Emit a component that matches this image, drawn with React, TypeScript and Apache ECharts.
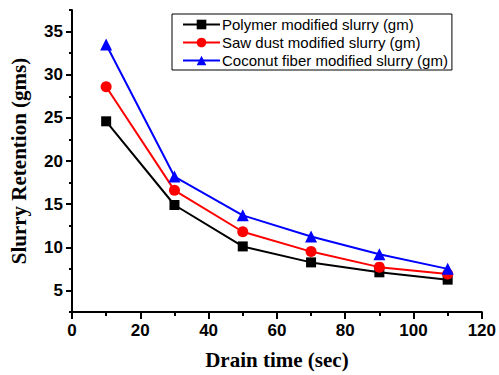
import React, { useEffect, useRef } from "react";
import * as echarts from "echarts";

const drainTime = [10, 30, 50, 70, 90, 110];
const polymer = [24.6, 14.9, 10.1, 8.25, 7.1, 6.25];
const sawDust = [28.6, 16.6, 11.8, 9.5, 7.7, 6.9];
const coconut = [33.5, 18.2, 13.7, 11.25, 9.2, 7.5];
const seriesNames = [
  "Polymer modified slurry (gm)",
  "Saw dust modified slurry (gm)",
  "Coconut fiber modified slurry (gm)",
];
const yMajorTicks = [5, 10, 15, 20, 25, 30, 35];
const yMinorTicks = [2.5, 7.5, 12.5, 17.5, 22.5, 27.5, 32.5, 37.5];

export default function App() {
  const ref = useRef<HTMLDivElement>(null);
  useEffect(() => {
    if (!ref.current) return;
    const chart = echarts.init(ref.current, undefined, { renderer: "svg" });
    const toPairs = (arr: number[]) => arr.map((v, i) => [drainTime[i], v]);
    const tickLabel = {
      fontFamily: "Liberation Sans",
      fontWeight: 700,
      fontSize: 17,
      color: "#000",
    };
    const nameStyle = {
      fontFamily: "Liberation Serif",
      fontWeight: 700,
      fontSize: 21,
      color: "#000",
    };
    chart.setOption({
      animation: false,
      grid: { left: 71, right: 14, top: 10, bottom: 62 },
      legend: {
        left: 172,
        top: 14,
        orient: "vertical",
        data: seriesNames,
        itemWidth: 37,
        itemHeight: 12,
        itemGap: 3,
        borderColor: "#000",
        borderWidth: 1,
        borderRadius: 0,
        padding: [3, 4, 2, 10],
        textStyle: { fontFamily: "Liberation Sans", fontSize: 15, color: "#000", padding: [0, 0, 0, -3] },
      },
      xAxis: {
        type: "value",
        min: 0,
        max: 120,
        interval: 20,
        name: "Drain time (sec)",
        nameLocation: "middle",
        nameGap: 37,
        nameTextStyle: nameStyle,
        axisLine: { lineStyle: { color: "#000", width: 2 } },
        axisTick: { length: 7, lineStyle: { color: "#000", width: 2 } },
        minorTick: { show: true, splitNumber: 2, length: 4, lineStyle: { color: "#000", width: 2 } },
        axisLabel: { ...tickLabel, margin: 10 },
        splitLine: { show: false },
      },
      yAxis: [
        {
          type: "value",
          min: 2.5,
          max: 37.5,
          name: "Slurry Retention (gms)",
          nameLocation: "middle",
          nameGap: 43,
          nameTextStyle: nameStyle,
          axisLine: { lineStyle: { color: "#000", width: 2 } },
          axisTick: { length: 6, customValues: yMajorTicks, lineStyle: { color: "#000", width: 2 } },
          axisLabel: { ...tickLabel, margin: 9, customValues: yMajorTicks },
          splitLine: { show: false },
        },
        {
          type: "value",
          min: 2.5,
          max: 37.5,
          position: "left",
          axisLine: { show: false },
          axisTick: { length: 3, customValues: yMinorTicks, lineStyle: { color: "#000", width: 2 } },
          axisLabel: { show: false },
          splitLine: { show: false },
        },
      ],
      series: [
        {
          name: seriesNames[0],
          type: "line",
          data: toPairs(polymer),
          color: "#000000",
          symbol: "rect",
          symbolSize: 10,
          lineStyle: { width: 2 },
        },
        {
          name: seriesNames[1],
          type: "line",
          data: toPairs(sawDust),
          color: "#ff0000",
          symbol: "circle",
          symbolSize: 11,
          lineStyle: { width: 2 },
        },
        {
          name: seriesNames[2],
          type: "line",
          data: toPairs(coconut),
          color: "#0000ff",
          symbol: "triangle",
          symbolSize: 12,
          lineStyle: { width: 2 },
        },
      ],
    });
    return () => chart.dispose();
  }, []);
  return <div ref={ref} style={{ width: 499, height: 375, position: "absolute", left: 0, top: 0 }} />;
}
